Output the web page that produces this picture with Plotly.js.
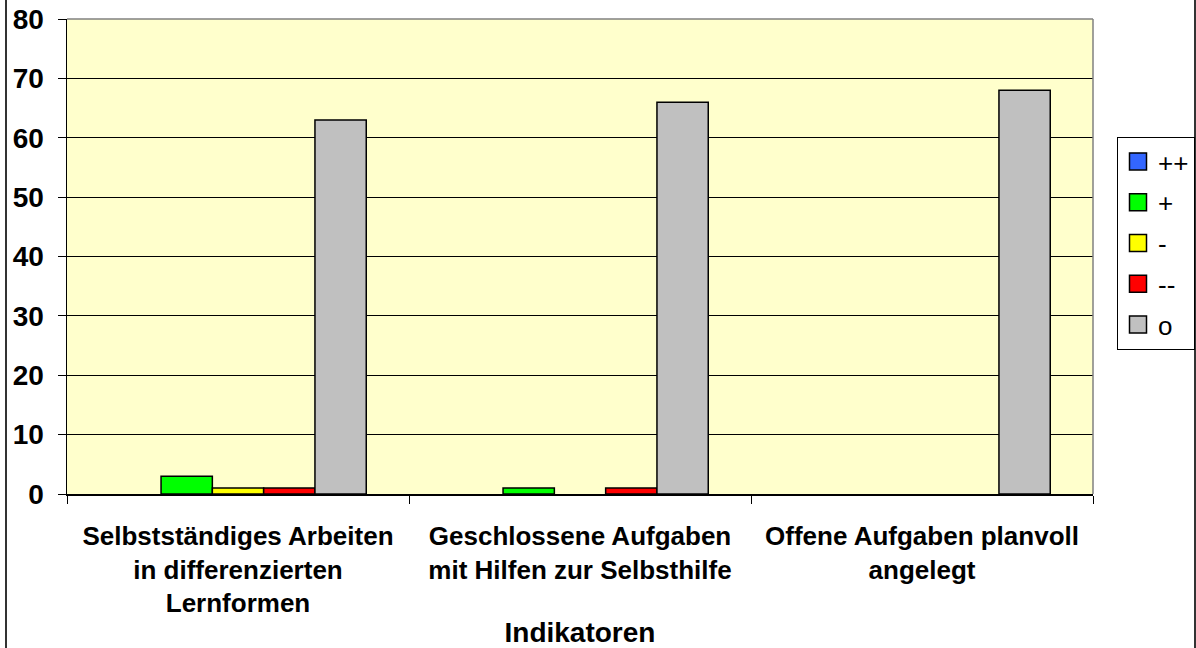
<!DOCTYPE html>
<html>
<head>
<meta charset="utf-8">
<script src="https://cdn.plot.ly/plotly-3.0.1.min.js"></script>
<style>
html,body{margin:0;padding:0;background:#fff;}
#chart{width:1196px;height:648px;}
</style>
</head>
<body>
<div id="chart"></div>
<script>
const categories = [
  "Selbstständiges Arbeiten<br>in differenzierten<br>Lernformen",
  "Geschlossene Aufgaben<br>mit Hilfen zur Selbsthilfe",
  "Offene Aufgaben planvoll<br>angelegt"
];
const seriesNames = ["++", "+", "-", "--", "o"];
const valuesPlusPlus = [0, 0, 0];
const valuesPlus = [3, 1, 0];
const valuesMinus = [1, 0, 0];
const valuesMinusMinus = [1, 1, 0];
const valuesO = [63, 66, 68];
const seriesColors = ["#3366FF", "#00FF00", "#FFFF00", "#FF0000", "#C0C0C0"];
const yTicks = [0, 10, 20, 30, 40, 50, 60, 70, 80];

const allValues = [valuesPlusPlus, valuesPlus, valuesMinus, valuesMinusMinus, valuesO];
const FONT = "Liberation Sans, Arial, sans-serif";

// zero-height bars are not drawn in the original (no outline at baseline)
const traces = seriesNames.map((name, i) => ({
  type: "bar",
  name: name,
  x: categories,
  y: allValues[i].map(v => (v === 0 ? null : v)),
  legendgroup: "g" + i,
  marker: { color: seriesColors[i], line: { color: "#000000", width: 1.5 } },
  hoverinfo: "x+y+name"
}));

const L = 67, R = 1093, T = 19, B = 494, W = 1196, H = 648;
const px2x = p => (p - L) / (R - L);
const px2y = p => (B - p) / (B - T);

const layout = {
  width: W,
  height: H,
  margin: { l: L, r: W - R, t: T, b: H - B, autoexpand: false },
  paper_bgcolor: "#ffffff",
  plot_bgcolor: "#FFFFCC",
  barmode: "group",
  bargap: 0.25,
  bargroupgap: 0,
  showlegend: true,
  font: { family: FONT, color: "#000000" },
  legend: {
    x: px2x(1117), y: px2y(137), xanchor: "left", yanchor: "top",
    bgcolor: "#ffffff", bordercolor: "#000000", borderwidth: 1,
    font: { family: FONT, size: 26, color: "#000000" },
    traceorder: "grouped", tracegroupgap: 4,
    itemwidth: 30
  },
  xaxis: {
    type: "category",
    tickson: "boundaries",
    ticks: "outside", ticklen: 8, tickcolor: "#000000", tickwidth: 1,
    showline: true, linecolor: "#000000", linewidth: 1.5,
    showgrid: false, zeroline: false,
    tickfont: { family: FONT, size: 26, color: "#000000", weight: "bold" },
    ticklabelstandoff: 18,
    automargin: false,
    title: { text: "<b>Indikatoren</b>", font: { family: FONT, size: 28, color: "#000000" }, standoff: 10 }
  },
  yaxis: {
    range: [0, 80],
    tickvals: yTicks,
    ticktext: yTicks.map(String),
    ticks: "outside", ticklen: 8, tickcolor: "#000000", tickwidth: 1,
    showline: true, linecolor: "#000000", linewidth: 1.5,
    showgrid: true, gridcolor: "#000000", gridwidth: 1,
    zeroline: false,
    tickfont: { family: FONT, size: 28, color: "#000000", weight: "bold" },
    ticklabelstandoff: 8,
    automargin: false
  },
  shapes: [
    { type: "line", xref: "paper", yref: "paper", x0: 0, x1: 1, y0: 1, y1: 1, line: { color: "#808080", width: 1.5 } },
    { type: "line", xref: "paper", yref: "paper", x0: 1, x1: 1, y0: 0, y1: 1, line: { color: "#808080", width: 1.5 } },
    { type: "line", xref: "paper", yref: "paper", x0: px2x(6), x1: px2x(6), y0: px2y(-5), y1: px2y(H + 5), line: { color: "#333333", width: 2 } },
    { type: "line", xref: "paper", yref: "paper", x0: px2x(1195), x1: px2x(1195), y0: px2y(-5), y1: px2y(H + 5), line: { color: "#333333", width: 2 } }
  ]
};

Plotly.newPlot("chart", traces, layout, { displayModeBar: false, staticPlot: true }).then(gd => {
  // enlarge legend swatches to match the original's bigger squares
  gd.querySelectorAll(".legendpoints path").forEach(p => {
    p.setAttribute("d", "M8.5,8.5H-8.5V-8.5H8.5Z");
  });
});
</script>
</body>
</html>
